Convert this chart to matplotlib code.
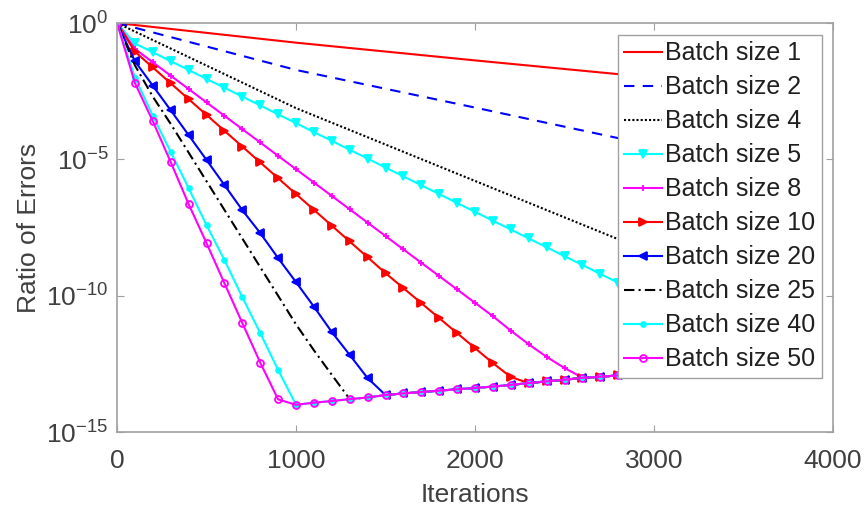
import numpy as np
import matplotlib
matplotlib.use("Agg")
import matplotlib.pyplot as plt

plt.rcParams["font.family"] = ["Liberation Sans", "DejaVu Sans"]
plt.rcParams["mathtext.fontset"] = "custom"
plt.rcParams["mathtext.rm"] = "Liberation Sans"

# ── Data: exponents (ratio = 10**-value), sampled every 100 iterations ──
iters = np.arange(0, 3600, 100)

# shared error floor reached by the fast runs (iterations 1000..3500)
floor_exp = [14.0, 13.92, 13.86, 13.79, 13.73, 13.64, 13.58, 13.53, 13.48, 13.43,
             13.38, 13.33, 13.27, 13.2, 13.14, 13.08, 13.01, 12.97, 12.92, 12.88,
             12.85, 12.81, 12.78, 12.75, 12.72, 12.69]

# unmarked slow runs: sparse points
iters_slow = [0, 1000, 2000, 3000, 3500]
exp_b1 = [0, 0.72, 1.37, 2.0, 2.33]
exp_b2 = [0, 1.72, 3.1, 4.5, 5.2]
exp_b4 = [0, 3.12, 5.79, 8.46, 9.8]

exp_b5 = [0, 0.75, 1.07, 1.40, 1.72, 2.05, 2.37, 2.70, 3.02, 3.35, 3.67, 4.0,
          4.32, 4.65, 4.97, 5.30, 5.62, 5.95, 6.27, 6.60, 6.92, 7.25, 7.57, 7.90,
          8.22, 8.55, 8.87, 9.20, 9.52, 9.85, 10.17, 10.50, 10.82, 11.15, 11.47, 11.80]
exp_b8 = [0, 0.95, 1.44, 1.93, 2.42, 2.91, 3.4, 3.89, 4.38, 4.87, 5.36, 5.85,
          6.34, 6.83, 7.32, 7.81, 8.3, 8.79, 9.28, 9.77, 10.26, 10.75, 11.28,
          11.78, 12.24, 12.65, 13.0]
exp_b10 = [0, 1.05, 1.63, 2.21, 2.79, 3.37, 3.95, 4.53, 5.11, 5.69, 6.27, 6.85,
           7.43, 8.01, 8.59, 9.17, 9.72, 10.27, 10.82, 11.37, 11.92, 12.47, 12.98]
exp_b20 = [0, 1.4, 2.3, 3.2, 4.11, 5.02, 5.94, 6.86, 7.70, 8.62, 9.50, 10.4,
           11.33, 12.17, 13.02]
exp_b25 = [0, 1.55, 2.7, 3.7, 4.75, 5.8, 6.85, 7.9, 8.95, 10.0, 11.05, 12.0, 12.9]
exp_b40 = [0, 2.0, 3.4, 4.73, 6.05, 7.41, 8.69, 10.05, 11.37, 12.72]
exp_b50 = [0, 2.2, 3.6, 5.1, 6.64, 8.07, 9.54, 11.0, 12.45, 13.8]


def with_floor(decay):
    # decay part is read until the run hits the floor, then the floor takes over
    n = len(decay)
    tail = floor_exp[n - 10:] if n >= 10 else []
    vals = list(decay) + tail
    return 10.0 ** (-np.array(vals[:len(iters)]))


fig = plt.figure(figsize=(8.65, 5.12), dpi=100)
ax = fig.add_axes([0.1353, 0.156, 0.8277, 0.799])

lw = 1.5
ax.plot(iters_slow, 10.0 ** (-np.array(exp_b1)), color="#ff0000", ls="-", lw=lw,
        label="Batch size 1")
ax.plot(iters_slow, 10.0 ** (-np.array(exp_b2)), color="#0000ff", ls=(0, (5, 4)), lw=lw,
        label="Batch size 2")
ax.plot(iters_slow, 10.0 ** (-np.array(exp_b4)), color="#000000", ls=(0, (1, 1)), lw=lw,
        label="Batch size 4")

marked = [
    (exp_b5, "#00ffff", "-", "v", 5.5, True, "Batch size 5"),
    (exp_b8, "#ff00ff", "-", "+", 5, True, "Batch size 8"),
    (exp_b10, "#ff0000", "-", ">", 5.5, True, "Batch size 10"),
    (exp_b20, "#0000ff", "-", "<", 5.5, True, "Batch size 20"),
    (exp_b25, "#000000", (0, (5, 2, 1, 2)), None, 0, False, "Batch size 25"),
    (exp_b40, "#00ffff", "-", ".", 7, True, "Batch size 40"),
    (exp_b50, "#ff00ff", "-", "o", 5, False, "Batch size 50"),
]
for vals, col, ls, mk, ms, filled, lab in marked:
    ax.plot(iters, with_floor(vals), color=col, ls=ls, lw=lw, marker=mk,
            markersize=ms, markerfacecolor=col if filled else "none",
            markeredgecolor=col, markeredgewidth=1.3, label=lab)

ax.set_yscale("log")
ax.set_xlim(0, 4000)
ax.set_ylim(1e-15, 1e0)
ax.set_xticks([0, 1000, 2000, 3000, 4000])
ax.set_yticks([1e-15, 1e-10, 1e-5, 1e0])
ax.set_yticklabels([r"$\mathregular{10^{-15}}$", r"$\mathregular{10^{-10}}$",
                    r"$\mathregular{10^{-5}}$", r"$\mathregular{10^{0}}$"])
ax.yaxis.set_minor_locator(matplotlib.ticker.NullLocator())

axis_col = "#a0a0a0"
text_col = "#404040"
for sp in ax.spines.values():
    sp.set_color(axis_col)
    sp.set_linewidth(1.2)
ax.tick_params(which="both", direction="in", top=True, right=True, length=5,
               color=axis_col, labelcolor=text_col, labelsize=19)
ax.tick_params(axis="x", pad=12)
ax.tick_params(axis="y", pad=6)

ax.set_xlabel("Iterations", fontsize=19, color=text_col, labelpad=7)
ax.set_ylabel("Ratio of Errors", fontsize=19, color=text_col, labelpad=4)

leg = ax.legend(loc="upper right", bbox_to_anchor=(0.9846, 0.9707), fontsize=18,
                frameon=True, fancybox=False, edgecolor=axis_col,
                framealpha=1, handlelength=1.5, handletextpad=0.15,
                labelspacing=0.40, borderpad=0.25, borderaxespad=0)
leg.set_zorder(10)
for t in leg.get_texts():
    t.set_color("#202020")

fig.savefig("out.png", dpi=100)
